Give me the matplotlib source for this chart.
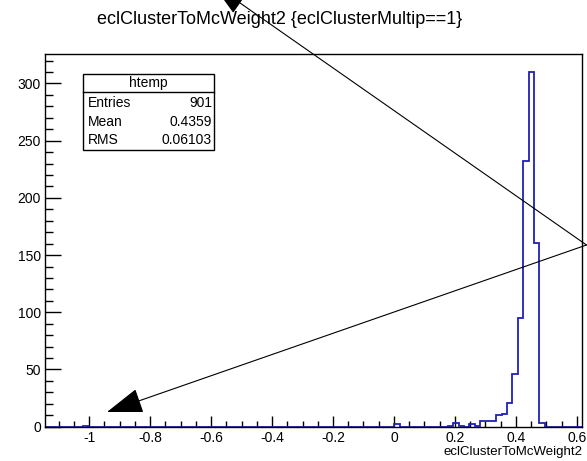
# encoding="utf-8"
# ROOT-style histogram of eclClusterToMcWeight2, redrawn with matplotlib

import numpy as np
import matplotlib
matplotlib.use("Agg")
import matplotlib.pyplot as plt
from matplotlib.patches import Rectangle, FancyArrowPatch
from matplotlib.ticker import MultipleLocator

# histogram range and binning (htemp, 100 bins)
x_min = -1.145
x_max = 0.618
n_bins = 100

# non empty bins: index -> entries
bin_index = [7, 65, 75, 76, 77, 79, 80, 81, 82, 83, 84, 85, 86, 87, 88, 89, 90, 91, 92]
bin_count = [1, 2, 1, 3, 1, 2, 1, 5, 5, 5, 10, 11, 21, 46, 95, 232, 310, 161, 3]

# stats box
stat_name = "htemp"
stat_labels = ["Entries", "Mean", "RMS"]
stat_values = ["901", "0.4359", "0.06103"]

title = "eclClusterToMcWeight2 {eclClusterMultip==1}"
x_title = "eclClusterToMcWeight2"

W, H = 587, 461


# picture pixels (top-left origin) -> figure fraction
def fp(x, y):
    return x / W, 1 - y / H


def main():
    plt.rcParams['font.family'] = ['Liberation Sans', 'DejaVu Sans']
    plt.rcParams['axes.unicode_minus'] = False

    fig = plt.figure(figsize=(W / 100, H / 100), dpi=100)
    fig.patch.set_facecolor("white")

    # frame position in pixels
    left, right, top, bottom = 45, 582.3, 54.3, 426.7
    ax = fig.add_axes([left / W, 1 - bottom / H, (right - left) / W, (bottom - top) / H])

    counts = np.zeros(n_bins)
    counts[bin_index] = bin_count
    edges = np.linspace(x_min, x_max, n_bins + 1)
    ax.stairs(counts, edges, color="#2020b8", lw=1.3, baseline=0, zorder=2)

    ax.set_xlim(x_min, x_max)
    ax.set_ylim(0, 1.05 * max(bin_count))

    # ROOT like ticks: inside, only bottom and left
    ax.xaxis.set_major_locator(MultipleLocator(0.2))
    ax.xaxis.set_minor_locator(MultipleLocator(0.05))
    ax.yaxis.set_major_locator(MultipleLocator(50))
    ax.yaxis.set_minor_locator(MultipleLocator(10))
    ax.tick_params(axis="x", which="major", direction="in", length=8, width=1, labelsize=10, pad=3)
    ax.tick_params(axis="x", which="minor", direction="in", length=4, width=1)
    ax.tick_params(axis="y", which="major", direction="in", length=11.5, width=1, labelsize=10, pad=3)
    ax.tick_params(axis="y", which="minor", direction="in", length=5.8, width=1)
    ax.xaxis.set_major_formatter(lambda v, p: ("%g" % round(v, 2)))
    for s in ax.spines.values():
        s.set_linewidth(1)
        s.set_zorder(3)

    # title and axis title
    fig.text(*fp(279.5, 19), title, ha="center", va="center", fontsize=13)
    fig.text(*fp(582, 452), x_title, ha="right", va="center", fontsize=9.5)

    # stats box
    bx0, by0, bx1, by1 = 82.7, 74, 214, 150
    x0, y1 = fp(bx0, by0)
    x1, y0 = fp(bx1, by1)
    fig.add_artist(Rectangle((x0, y0), x1 - x0, y1 - y0, transform=fig.transFigure,
                             facecolor="white", edgecolor="black", lw=1, zorder=5))
    sx0, sy = fp(bx0, 91.7)
    sx1, _ = fp(bx1, 91.7)
    fig.add_artist(plt.Line2D([sx0, sx1], [sy, sy], transform=fig.transFigure, color="black", lw=1, zorder=6))
    fig.text(*fp((bx0 + bx1) / 2, 82.7), stat_name, ha="center", va="center", fontsize=10, zorder=7)
    for i, (lab, val) in enumerate(zip(stat_labels, stat_values)):
        yy = 103.3 + i * 18.3
        fig.text(*fp(88, yy), lab, ha="left", va="center", fontsize=10, zorder=7)
        fig.text(*fp(212, yy), val, ha="right", va="center", fontsize=10, zorder=7)

    # the two arrows drawn on the canvas
    start = fp(586.5, 245)
    for tip in [(212, -16.6), (107, 412)]:
        arr = FancyArrowPatch(start, fp(*tip), transform=fig.transFigure,
                              arrowstyle="-|>,head_length=23,head_width=8",
                              mutation_scale=1, color="black", lw=0.8,
                              shrinkA=0, shrinkB=0, zorder=8)
        fig.add_artist(arr)

    fig.savefig("out.png", dpi=100)


if __name__ == '__main__':
    main()
